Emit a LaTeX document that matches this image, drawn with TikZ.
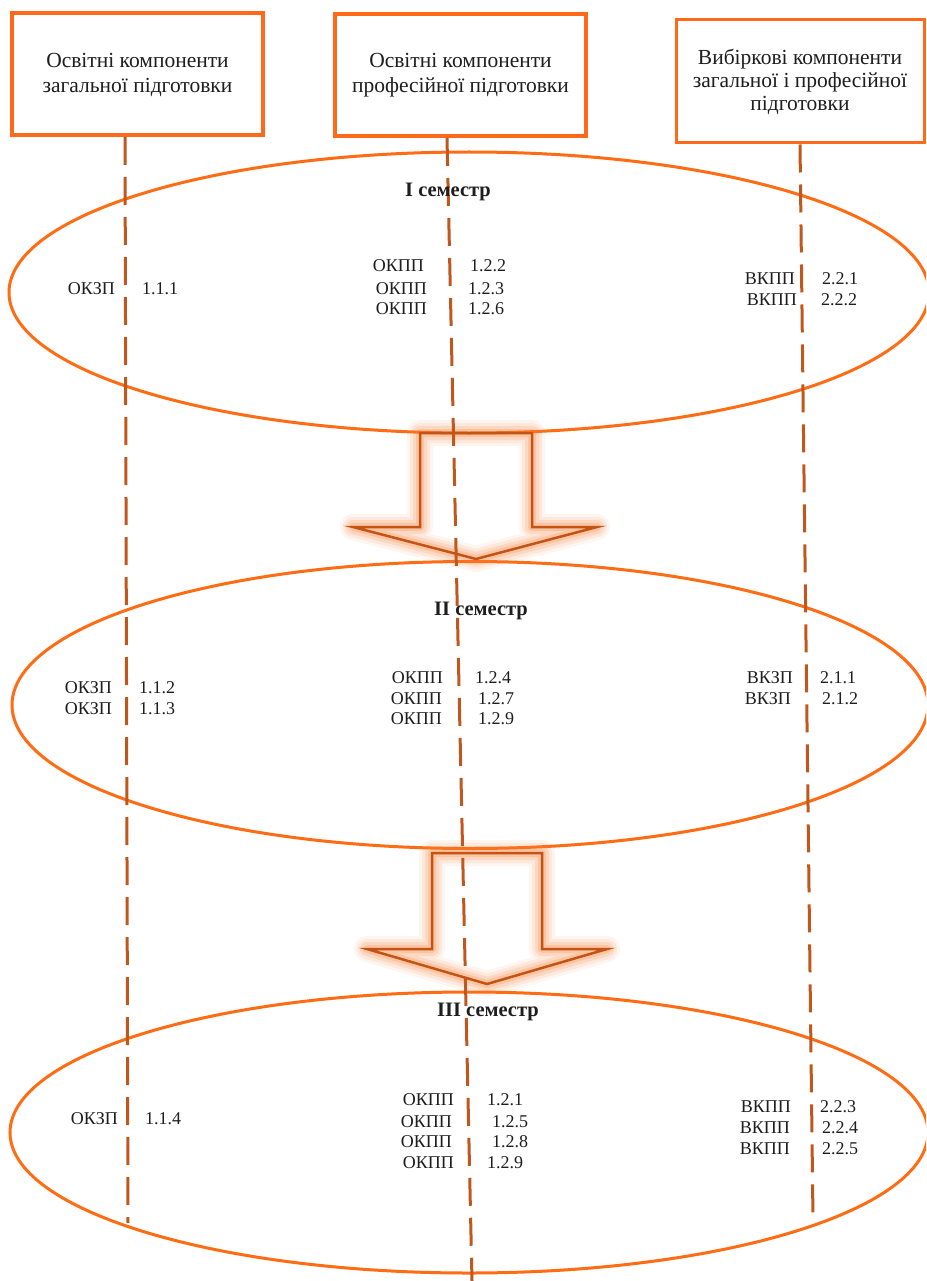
\documentclass[tikz,border=0pt]{standalone}
\usepackage{fontspec}
\setmainfont{Liberation Serif}
\definecolor{ellc}{RGB}{255,108,20}
\definecolor{boxc}{RGB}{255,105,25}
\definecolor{dashc}{RGB}{192,88,30}
\definecolor{arrc}{RGB}{196,84,20}
\definecolor{glowc}{RGB}{250,125,50}
\definecolor{txtc}{RGB}{30,30,30}
\begin{document}
\begin{tikzpicture}[x=1pt,y=-1pt,
  topbox/.style={draw=boxc, line width=4pt, minimum width=251pt, minimum height=122pt, align=center, text=txtc, inner sep=0pt, font=\fontsize{21.5}{25}\selectfont},
  semlab/.style={text=txtc, inner sep=0pt, anchor=base, font=\bfseries\fontsize{20.5}{24}\selectfont},
  lab/.style={text=txtc, inner sep=0pt, anchor=base east, font=\fontsize{18}{21}\selectfont},
  num/.style={text=txtc, inner sep=0pt, anchor=base west, font=\fontsize{18}{21}\selectfont},
  ellline/.style={draw=ellc, line width=3pt},
  dashline/.style={draw=dashc, line width=3pt, dash pattern=on 28pt off 12pt},
  arrA/.style={insert path={(420,433) -- (532,433) -- (532,527) -- (597,527) -- (476,559) -- (353,527) -- (420,527) -- cycle}},
  arrB/.style={insert path={(432,853) -- (542,853) -- (542,949) -- (607,949) -- (487,984) -- (367,949) -- (432,949) -- cycle}},
  glowline/.style={draw=glowc, line join=round}
]
\useasboundingbox (0,0) rectangle (926,1281);
\clip (0,0) rectangle (926,1281);
\fill[white] (0,0) rectangle (926,1281);

% ellipses
\draw[ellline] (469,292.5) ellipse [x radius=460pt, y radius=140.5pt];
\draw[ellline] (470,705) ellipse [x radius=458pt, y radius=143.5pt];
\draw[ellline] (469,1132.5) ellipse [x radius=459pt, y radius=140.5pt];

% arrows with glow
\foreach \w/\o in {26/0.07, 20/0.10, 14/0.15, 8/0.22} {
  \path[glowline, line width=\w pt, opacity=\o] [arrA];
  \path[glowline, line width=\w pt, opacity=\o] [arrB];
}
\path[draw=arrc, line width=2.5pt] [arrA];
\path[draw=arrc, line width=2.5pt] [arrB];

% top boxes
\node[topbox] (b1) at (137.5,74.5) {Освітні компоненти\\загальної підготовки};
\node[topbox] (b2) at (460.5,75.5) {Освітні компоненти\\професійної підготовки};
\node[topbox, line width=3pt, minimum width=248pt, minimum height=123pt, font=\fontsize{21.5}{23}\selectfont] (b3) at (800,81.5) {Вибіркові компоненти\\загальної і професійної\\підготовки};

% dashed column lines
\coordinate (s1) at (125,137);
\coordinate (e1) at (128,1223);
\coordinate (s2) at (447,138);
\coordinate (e2) at (472,1281);
\coordinate (s3) at (800,144.5);
\coordinate (e3) at (813,1220);
\draw[dashline] (s1) -- (e1);
\draw[dashline] (s2) -- (e2);
\draw[dashline] (s3) -- (e3);

% semester labels
\node[semlab] (sem1) at (448,197) {I семестр};
\node[semlab] (sem2) at (481,615) {II семестр};
\node[semlab] (sem3) at (488,1016) {III семестр};

% semester I
\node[lab] (a1l) at (115,294) {ОКЗП};  \node[num] (a1n) at (142,294) {1.1.1};
\node[lab] (a2l) at (424,271) {ОКПП};  \node[num] (a2n) at (470,271) {1.2.2};
\node[lab] (a3l) at (427,294) {ОКПП};  \node[num] (a3n) at (468,294) {1.2.3};
\node[lab] (a4l) at (427,314) {ОКПП};  \node[num] (a4n) at (468,314) {1.2.6};
\node[lab] (a5l) at (795,284) {ВКПП};  \node[num] (a5n) at (822,284) {2.2.1};
\node[lab] (a6l) at (797,305) {ВКПП};  \node[num] (a6n) at (821,305) {2.2.2};

% semester II
\node[lab] (c1l) at (112,693) {ОКЗП};  \node[num] (c1n) at (139,693) {1.1.2};
\node[lab] (c2l) at (112,714) {ОКЗП};  \node[num] (c2n) at (139,714) {1.1.3};
\node[lab] (c3l) at (443,683) {ОКПП};  \node[num] (c3n) at (475,683) {1.2.4};
\node[lab] (c4l) at (442,704) {ОКПП};  \node[num] (c4n) at (478,704) {1.2.7};
\node[lab] (c5l) at (442,724) {ОКПП};  \node[num] (c5n) at (478,724) {1.2.9};
\node[lab] (c6l) at (793,683) {ВКЗП};  \node[num] (c6n) at (820,683) {2.1.1};
\node[lab] (c7l) at (791,704) {ВКЗП};  \node[num] (c7n) at (822,704) {2.1.2};

% semester III
\node[lab] (d1l) at (118,1124) {ОКЗП};  \node[num] (d1n) at (145,1124) {1.1.4};
\node[lab] (d2l) at (454,1105) {ОКПП};  \node[num] (d2n) at (487,1105) {1.2.1};
\node[lab] (d3l) at (452,1127) {ОКПП};  \node[num] (d3n) at (492,1127) {1.2.5};
\node[lab] (d4l) at (452,1147) {ОКПП};  \node[num] (d4n) at (492,1147) {1.2.8};
\node[lab] (d5l) at (454,1168) {ОКПП};  \node[num] (d5n) at (487,1168) {1.2.9};
\node[lab] (d6l) at (791,1112) {ВКПП};  \node[num] (d6n) at (820,1112) {2.2.3};
\node[lab] (d7l) at (790,1133) {ВКПП};  \node[num] (d7n) at (822,1133) {2.2.4};
\node[lab] (d8l) at (790,1154) {ВКПП};  \node[num] (d8n) at (822,1154) {2.2.5};
\end{tikzpicture}
\end{document}
